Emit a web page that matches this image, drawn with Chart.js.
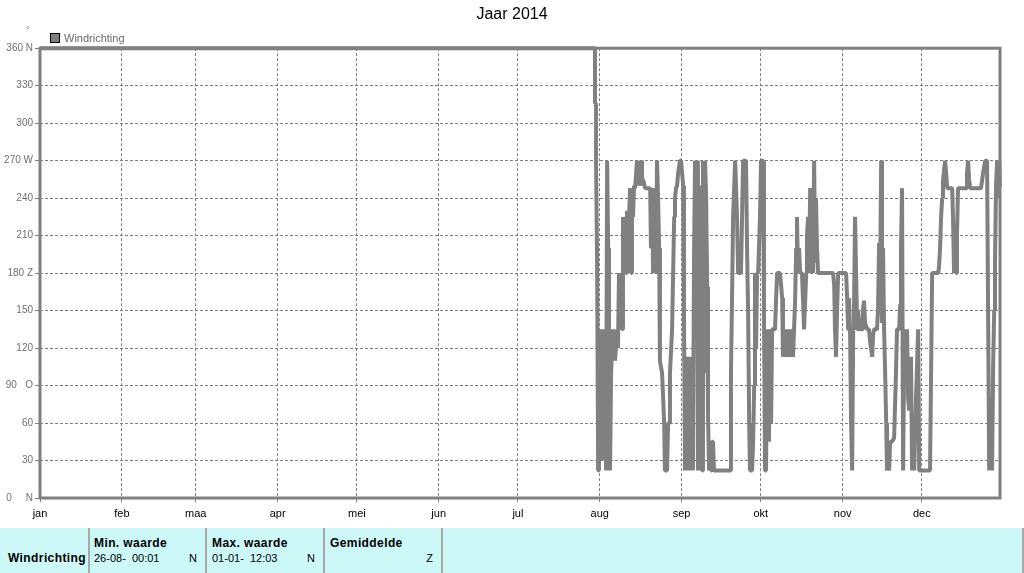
<!DOCTYPE html>
<html>
<head>
<meta charset="utf-8">
<title>Jaar 2014 - Windrichting</title>
<script src="https://cdn.jsdelivr.net/npm/chart.js@4.4.0/dist/chart.umd.min.js"></script>
<style>
    body { margin: 0; width: 1024px; height: 573px; overflow: hidden; background: #fff;
           font-family: "Liberation Sans", Arial, sans-serif; position: relative; }
    #wrap { position: absolute; left: 0; top: 0; width: 1024px; height: 520px; }
    #deg { position: absolute; left: 26px; top: 25px; font-size: 9px; color: #707070; }
    #legend { position: absolute; left: 50px; top: 32px; font-size: 11px; color: #6a6a6a;
              display: flex; align-items: center; }
    #legend .box { width: 8px; height: 8px; border: 1px solid #000; background: #808080; margin-right: 4px; }
    #tabel { position: absolute; left: 0; top: 528px; width: 1022px; height: 45px; background: #ccf8f8;
             border-right: 2px solid #a8a8a8; overflow: hidden; }
    .cel { position: absolute; top: 0; height: 45px; border-left: 2px solid #a8a8a8; }
    .cel span { position: absolute; white-space: pre; color: #000; }
    .kop { top: 8px; font-weight: bold; font-size: 12px; letter-spacing: 0.4px; }
    .waarde { top: 24px; font-size: 11px; }
    .eenheid { top: 24px; font-size: 11px; right: 8px; }
</style>
</head>
<body>
<div id="wrap"><canvas id="grafiek" width="1024" height="520"></canvas></div>
<div id="deg">°</div>
<div id="legend"><span class="box"></span>Windrichting</div>

<div id="tabel">
    <div class="cel" style="left:-2px;width:90px">
        <span class="kop" style="left:8px;top:23px">Windrichting</span>
    </div>
    <div class="cel" style="left:88px;width:115px">
        <span class="kop" style="left:4px">Min. waarde</span>
        <span class="waarde" style="left:4px">26-08-  00:01</span>
        <span class="eenheid">N</span>
    </div>
    <div class="cel" style="left:205px;width:116px">
        <span class="kop" style="left:5px">Max. waarde</span>
        <span class="waarde" style="left:5px">01-01-  12:03</span>
        <span class="eenheid">N</span>
    </div>
    <div class="cel" style="left:323px;width:116px">
        <span class="kop" style="left:5px">Gemiddelde</span>
        <span class="eenheid">Z</span>
    </div>
    <div class="cel" style="left:441px;width:580px"></div>
</div>

<script>
// maanden op de x-as (dag van het jaar waarop de maand begint)
const maanden = ['jan', 'feb', 'maa', 'apr', 'mei', 'jun', 'jul', 'aug', 'sep', 'okt', 'nov', 'dec'];
const maandStart = [0, 31, 59, 90, 120, 151, 181, 212, 243, 273, 304, 334];

// y-as: graden met windstreek
const richtingTicks = [0, 30, 60, 90, 120, 150, 180, 210, 240, 270, 300, 330, 360];
const richtingLabels = ['0     N', '30', '60', '90   O', '120', '150', '180 Z', '210', '240', '270 W', '300', '330', '360 N'];

// windrichting (graden) per dag van het jaar
const dagen = [
    0, 210.2, 210.2, 210.6, 210.6, 211.0, 211.4, 211.7, 212.1, 212.5, 212.9, 213.3, 213.6, 214.0, 214.4, 214.8,
    215.2, 215.5, 215.9, 216.3, 216.7, 217.0, 217.8, 218.6, 218.9, 219.3, 219.7, 220.1, 220.5, 220.8, 221.2,
    221.6, 222.0, 222.3, 222.7, 223.1, 223.5, 223.9, 224.2, 224.6, 225.0, 225.4, 226.1, 226.5, 226.9, 227.3,
    227.7, 228.0, 228.4, 229.2, 230.3, 231.1, 231.4, 231.8, 232.2, 232.6, 233.0, 233.3, 233.7, 234.1, 234.5,
    234.8, 235.6, 236.0, 236.4, 236.7, 237.5, 237.9, 238.3, 238.6, 239.4, 239.8, 240.2, 240.5, 240.9, 241.3,
    241.7, 242.4, 242.8, 243.6, 243.9, 244.3, 244.7, 245.1, 245.5, 245.8, 246.2, 246.6, 247.0, 247.3, 247.7,
    248.1, 248.5, 248.9, 249.2, 249.6, 250.0, 250.4, 250.8, 251.1, 251.5, 251.9, 252.3, 252.7, 253.0, 253.4,
    253.8, 254.2, 254.5, 254.9, 255.3, 255.7, 261.4, 261.7, 262.1, 262.5, 262.9, 263.3, 263.6, 264.0, 264.4,
    265.5, 265.9, 266.3, 267.4, 267.8, 268.2, 268.6, 268.9, 269.7, 270.1, 270.5, 270.8, 271.2, 271.6, 272.0,
    272.7, 273.1, 273.9, 274.2, 274.6, 275.0, 275.4, 275.8, 276.1, 276.5, 276.9, 277.3, 277.7, 278.4, 278.8,
    279.2, 280.3, 281.1, 281.4, 282.2, 282.6, 283.0, 283.7, 284.5, 285.2, 285.6, 286.0, 286.4, 286.7, 287.1,
    287.5, 287.9, 288.6, 289.0, 289.4, 289.8, 290.2, 290.5, 290.9, 291.3, 291.7, 292.0, 292.4, 292.8, 293.2,
    293.6, 293.9, 294.3, 294.7, 295.5, 300.4, 300.8, 301.1, 301.5, 301.9, 302.3, 303.0, 305.3, 305.7, 306.1,
    306.4, 306.8, 307.2, 307.6, 308.0, 308.3, 308.7, 309.1, 309.5, 309.8, 310.6, 311.4, 311.7, 312.1, 312.5,
    313.3, 314.0, 314.4, 315.2, 315.5, 315.9, 317.0, 317.4, 317.8, 318.2, 318.6, 318.9, 319.3, 319.7, 320.1,
    320.5, 320.8, 321.2, 321.6, 322.0, 322.7, 323.5, 324.2, 324.6, 325.4, 325.8, 326.1, 326.5, 326.9, 327.3,
    327.7, 328.0, 328.4, 328.8, 329.2, 329.9, 330.3, 330.7, 331.1, 331.8, 332.6, 333.0, 333.7, 337.1, 337.5,
    337.9, 340.2, 340.5, 340.9, 341.3, 341.7, 342.0, 342.4, 342.8, 343.2, 343.6, 345.5, 345.8, 346.2, 346.6,
    347.0, 347.3, 347.7, 348.5, 350.8, 351.1, 351.5, 351.9, 352.3, 356.4, 357.2, 358.0, 358.7, 359.1, 359.5,
    359.8, 360.2, 360.6, 361.0, 361.4, 361.7, 362.1, 362.5, 362.9, 363.3, 363.6
];
const richting = [
    360, 360, 316, 316, 270, 190, 22, 135, 30, 135, 44, 135, 30, 120, 22, 270,
    200, 110, 22, 100, 120, 135, 110, 135, 120, 180, 140, 180, 135, 225, 180,
    225, 180, 230, 180, 225, 248, 180, 248, 225, 250, 248, 270, 250, 270, 255,
    270, 250, 255, 248, 248, 248, 200, 248, 180, 248, 225, 180, 270, 240, 200,
    110, 100, 81, 60, 22, 22, 60, 60, 100, 135, 180, 225, 240, 248, 250,
    260, 270, 270, 250, 148, 22, 110, 22, 113, 30, 113, 22, 113, 22, 190,
    270, 150, 270, 22, 250, 22, 200, 22, 270, 100, 270, 240, 169, 68, 22,
    45, 22, 45, 45, 22, 22, 22, 100, 158, 225, 248, 270, 270, 225, 180,
    180, 225, 270, 270, 200, 148, 60, 22, 22, 45, 90, 180, 120, 180, 180,
    225, 270, 270, 148, 22, 22, 135, 100, 45, 135, 60, 135, 135, 135, 160,
    180, 180, 160, 113, 135, 113, 135, 113, 135, 113, 135, 158, 200, 225, 180,
    200, 180, 180, 158, 135, 158, 180, 210, 225, 180, 248, 230, 248, 180, 270,
    190, 240, 200, 180, 180, 180, 170, 135, 113, 150, 180, 180, 180, 160, 135,
    160, 135, 60, 22, 135, 150, 225, 180, 135, 150, 135, 135, 150, 158, 140,
    135, 135, 125, 113, 130, 135, 135, 150, 204, 180, 270, 140, 200, 135, 100,
    60, 22, 30, 22, 45, 45, 48, 100, 135, 135, 155, 200, 248, 22, 110,
    135, 100, 135, 80, 70, 113, 22, 60, 22, 80, 135, 22, 22, 22, 100,
    180, 180, 185, 200, 225, 240, 254, 262, 270, 260, 248, 248, 225, 180, 200,
    180, 210, 248, 248, 248, 260, 270, 255, 248, 248, 260, 270, 270, 148, 22,
    22, 80, 22, 105, 150, 188, 250, 270, 240, 270, 249
];

const grijs = '#808080';

// Kader rond het plotgebied
const kaderPlugin = {
    id: 'kader',
    afterDatasetsDraw(chart) {
        const { ctx, chartArea: a } = chart;
        ctx.save();
        ctx.strokeStyle = grijs;
        ctx.lineWidth = 3;
        ctx.strokeRect(a.left, a.top, a.right - a.left, a.bottom - a.top);
        ctx.restore();
    }
};

const ctx = document.getElementById('grafiek').getContext('2d');
new Chart(ctx, {
    type: 'line',
    data: {
        datasets: [{
            label: 'Windrichting',
            data: dagen.map((d, i) => ({ x: d, y: richting[i] })),
            borderColor: grijs,
            backgroundColor: grijs,
            borderWidth: 4,
            borderJoinStyle: 'bevel',
            pointRadius: 0,
            tension: 0,
            fill: false,
            clip: 4
        }]
    },
    options: {
        responsive: false,
        devicePixelRatio: 1,
        animation: false,
        layout: { padding: 0 },
        plugins: {
            legend: { display: false },
            tooltip: { enabled: false },
            title: {
                display: true,
                text: 'Jaar 2014',
                color: '#000',
                font: { family: 'Liberation Sans', size: 16, weight: 'normal' },
                padding: { top: 5, bottom: 24 }
            }
        },
        scales: {
            x: {
                type: 'linear',
                min: 0,
                max: 363.6,
                afterBuildTicks: (scale) => {
                    scale.ticks = maandStart.map(v => ({ value: v }));
                },
                afterFit: (scale) => { scale.height = 22; },
                ticks: {
                    autoSkip: false,
                    maxRotation: 0,
                    padding: 5,
                    color: '#000',
                    font: { family: 'Liberation Sans', size: 11 },
                    callback: (v) => maanden[maandStart.indexOf(v)]
                },
                grid: { color: grijs, lineWidth: 1, tickLength: 4 },
                border: { display: false, dash: [3, 2] }
            },
            y: {
                min: 0,
                max: 360,
                afterBuildTicks: (scale) => {
                    scale.ticks = richtingTicks.map(v => ({ value: v }));
                },
                afterFit: (scale) => { scale.width = 40; },
                ticks: {
                    padding: 2,
                    color: '#707070',
                    font: { family: 'Liberation Sans', size: 10 },
                    callback: (v) => richtingLabels[richtingTicks.indexOf(v)]
                },
                grid: { color: grijs, lineWidth: 1, tickLength: 5 },
                border: { display: false, dash: [3, 2] }
            },
            // lege as rechts, alleen voor de witte marge naast het plotgebied
            marge: {
                position: 'right',
                min: 0,
                max: 360,
                afterFit: (scale) => { scale.width = 24; },
                ticks: { display: false },
                grid: { display: false },
                border: { display: false }
            }
        }
    },
    plugins: [kaderPlugin]
});
</script>
</body>
</html>
